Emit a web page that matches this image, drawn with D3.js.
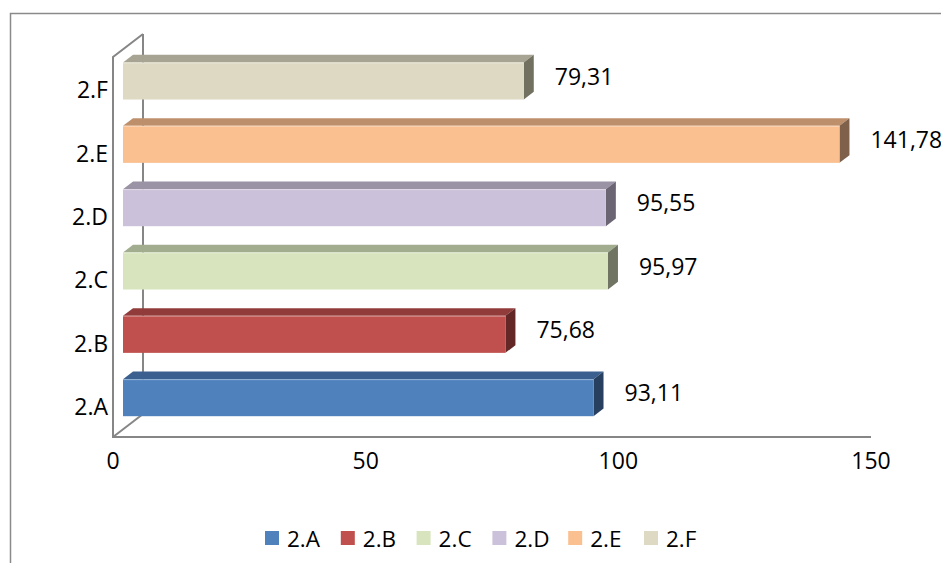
<!DOCTYPE html>
<html>
<head>
<meta charset="utf-8">
<script src="https://cdn.jsdelivr.net/npm/d3@7"></script>
<style>
  body { margin: 0; background: #fff; }
  text { font-family: "Open Sans", sans-serif; fill: #000; }
</style>
</head>
<body>
<div id="chart-root"></div>
<script>
// data
const categories = ['2.A', '2.B', '2.C', '2.D', '2.E', '2.F'];
const values = [93.11, 75.68, 95.97, 95.55, 141.78, 79.31];
const value_labels = ['93,11', '75,68', '95,97', '95,55', '141,78', '79,31'];
const x_ticks = [0, 50, 100, 150];

// front / top / side shades per series
const front_colors = ['#4F81BD', '#C0504D', '#D7E4BD', '#CCC1DA', '#FAC090', '#DDD9C3'];
const top_colors = ['#3B6090', '#913C3A', '#A2AC8F', '#9A92A5', '#BE8F6B', '#A7A493'];
const side_colors = ['#28405F', '#632826', '#6F7562', '#6B6573', '#7F604A', '#72705F'];

const width = 941, height = 563;
const plot = {left: 113, right: 871, top: 57, bottom: 437};
const depth = {dx: 30, dy: -23};
// bars sit between 1/3 and 2/3 of the floor depth
const bx = depth.dx / 3, by = depth.dy / 3;

const svg = d3.select('#chart-root')
    .append('svg')
    .attr('width', width)
    .attr('height', height);

// outer chart border (runs off the right and bottom edge)
svg.append('rect')
    .attr('x', 10.5).attr('y', 13.5)
    .attr('width', 1000).attr('height', 1000)
    .attr('fill', 'none')
    .attr('stroke', '#8a8a8a')
    .attr('stroke-width', 1.5);

const x_scale = d3.scaleLinear()
    .domain([0, 150])
    .range([plot.left, plot.right]);

const y_scale = d3.scaleBand()
    .domain(categories)
    .range([plot.bottom, plot.top])
    .paddingInner(0.415)
    .paddingOuter(0.2075);

const wall = svg.append('g')
    .attr('fill', 'none')
    .attr('stroke', '#868686')
    .attr('stroke-width', 2);

// back wall edge
wall.append('line')
    .attr('x1', plot.left + depth.dx).attr('y1', plot.top + depth.dy)
    .attr('x2', plot.left + depth.dx).attr('y2', plot.bottom + depth.dy);
// front wall edge + top diagonal
wall.append('path')
    .attr('d', d3.line()([
      [plot.left + depth.dx, plot.top + depth.dy],
      [plot.left, plot.top],
      [plot.left, plot.bottom],
      [plot.right, plot.bottom]
    ]));
// floor diagonal
wall.append('line')
    .attr('x1', plot.left).attr('y1', plot.bottom)
    .attr('x2', plot.left + depth.dx).attr('y2', plot.bottom + depth.dy);

const bar_data = categories.map((c, i) => ({
  cat: c, value: values[i], label: value_labels[i], i: i
}));

const bars = svg.append('g').selectAll('g')
    .data(bar_data)
    .join('g');

const face = (d) => {
  const x1 = x_scale(0) + bx, x2 = x_scale(d.value) + bx;
  const y1 = y_scale(d.cat) + by, y2 = y1 + y_scale.bandwidth();
  return {x1, x2, y1, y2};
};

bars.append('polygon')
    .attr('points', (d) => {
      const f = face(d);
      return [[f.x1, f.y1], [f.x2, f.y1], [f.x2 + bx, f.y1 + by], [f.x1 + bx, f.y1 + by]].join(' ');
    })
    .attr('fill', (d) => top_colors[d.i]);

bars.append('polygon')
    .attr('points', (d) => {
      const f = face(d);
      return [[f.x2, f.y1], [f.x2 + bx, f.y1 + by], [f.x2 + bx, f.y2 + by], [f.x2, f.y2]].join(' ');
    })
    .attr('fill', (d) => side_colors[d.i]);

bars.append('rect')
    .attr('x', (d) => face(d).x1)
    .attr('y', (d) => face(d).y1)
    .attr('width', (d) => face(d).x2 - face(d).x1)
    .attr('height', y_scale.bandwidth())
    .attr('fill', (d) => front_colors[d.i]);

// light edge between top and front face
bars.append('line')
    .attr('x1', (d) => face(d).x1)
    .attr('x2', (d) => face(d).x2)
    .attr('y1', (d) => face(d).y1 + 0.5)
    .attr('y2', (d) => face(d).y1 + 0.5)
    .attr('stroke', '#ffffff')
    .attr('stroke-opacity', 0.35);

// value labels
bars.append('text')
    .attr('x', (d) => x_scale(d.value) + 2 * bx + 21)
    .attr('y', (d) => face(d).y1 + y_scale.bandwidth() / 2 + 3.7)
    .attr('font-size', 23)
    .text((d) => d.label);

// category labels
svg.append('g').selectAll('text')
    .data(categories)
    .join('text')
    .attr('x', plot.left - 5)
    .attr('y', (d) => y_scale(d) + y_scale.bandwidth() / 2 + 9.5)
    .attr('text-anchor', 'end')
    .attr('font-size', 23)
    .text((d) => d);

// x tick labels
svg.append('g').selectAll('text')
    .data(x_ticks)
    .join('text')
    .attr('x', (d) => x_scale(d))
    .attr('y', 469)
    .attr('text-anchor', 'middle')
    .attr('font-size', 23)
    .text((d) => d);

// legend
const legend = svg.append('g')
    .selectAll('g')
    .data(categories)
    .join('g')
    .attr('transform', (d, i) => `translate(${265 + i * 75.8},531)`);

legend.append('rect')
    .attr('width', 14).attr('height', 14)
    .attr('fill', (d, i) => front_colors[i]);

legend.append('text')
    .attr('x', 22)
    .attr('y', 16)
    .attr('font-size', 22.5)
    .text((d) => d);
</script>
</body>
</html>
